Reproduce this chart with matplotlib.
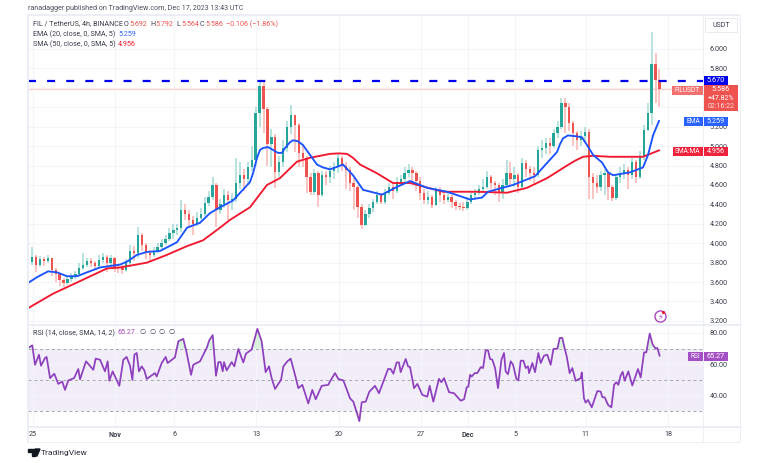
import numpy as np
import matplotlib
matplotlib.use('Agg')
import matplotlib.pyplot as plt
import matplotlib.patches as mpatches

plt.rcParams['font.family'] = ['Roboto', 'DejaVu Sans']

# 8h candles from Oct 24 evening, x is days since Oct 25
closes = [3.81,3.86,3.78,3.84,3.82,3.85,3.72,3.68,3.62,3.59,
          3.63,3.66,3.68,3.74,3.78,3.82,3.80,3.77,3.83,3.86,
          3.80,3.85,3.76,3.74,3.72,3.80,3.92,3.90,4.08,3.98,
          3.90,3.88,3.92,3.96,4.00,4.04,4.10,4.14,4.16,4.34,
          4.30,4.24,4.20,4.26,4.30,4.41,4.48,4.60,4.34,4.40,
          4.50,4.44,4.46,4.62,4.70,4.66,4.78,4.86,5.34,5.62,
          5.38,5.02,5.09,4.73,4.84,4.98,5.20,5.32,5.22,4.93,
          4.88,4.68,4.53,4.72,4.50,4.70,4.68,4.74,4.78,4.88,
          4.80,4.75,4.62,4.58,4.37,4.19,4.30,4.36,4.42,4.50,
          4.42,4.52,4.58,4.54,4.63,4.66,4.72,4.75,4.72,4.64,
          4.52,4.45,4.48,4.39,4.55,4.50,4.45,4.48,4.42,4.38,
          4.37,4.36,4.42,4.50,4.52,4.56,4.58,4.68,4.62,4.60,
          4.52,4.60,4.72,4.66,4.70,4.58,4.83,4.76,4.72,4.70,
          4.96,4.98,5.03,5.00,5.13,5.20,5.44,5.40,5.24,5.13,
          5.06,5.10,5.15,4.68,4.62,4.58,4.70,4.72,4.58,4.47,
          4.68,4.72,4.75,4.70,4.84,4.68,4.89,5.17,5.34,5.85,5.68,5.586]
highs = [3.88,3.96,3.88,3.87,3.86,3.88,3.85,3.74,3.68,3.64,
         3.66,3.69,3.71,3.80,3.90,3.85,3.85,3.82,3.88,3.90,
         3.88,3.88,3.86,3.79,3.78,3.84,3.98,3.97,4.17,4.10,
         4.00,3.93,3.96,4.00,4.04,4.08,4.16,4.20,4.20,4.44,
         4.40,4.34,4.28,4.32,4.36,4.48,4.54,4.68,4.62,4.46,
         4.56,4.54,4.52,4.88,4.84,4.76,4.84,5.00,5.40,5.68,
         5.68,5.40,5.18,5.12,4.90,5.06,5.26,5.42,5.32,5.24,
         5.00,4.90,4.72,4.76,4.74,4.74,4.74,4.80,4.84,4.92,
         4.90,4.84,4.78,4.68,4.60,4.40,4.34,4.40,4.46,4.54,
         4.52,4.56,4.62,4.62,4.68,4.70,4.78,4.82,4.78,4.74,
         4.68,4.56,4.54,4.50,4.58,4.58,4.54,4.52,4.50,4.44,
         4.41,4.42,4.48,4.54,4.56,4.60,4.66,4.74,4.70,4.64,
         4.62,4.66,4.86,4.84,4.78,4.72,4.88,4.86,4.80,4.78,
         5.00,5.06,5.08,5.08,5.18,5.26,5.50,5.50,5.44,5.26,
         5.16,5.16,5.20,5.18,4.72,4.70,4.74,4.76,4.74,4.60,
         4.70,4.78,4.82,4.78,4.88,4.86,4.95,5.22,5.44,6.18,5.96,5.79]
lows = [3.74,3.78,3.70,3.76,3.77,3.80,3.66,3.60,3.56,3.55,
        3.57,3.60,3.63,3.66,3.72,3.76,3.75,3.73,3.75,3.80,
        3.70,3.76,3.70,3.69,3.68,3.70,3.78,3.82,3.85,3.92,
        3.84,3.82,3.86,3.90,3.94,3.98,4.02,4.04,4.08,4.12,
        4.24,4.16,4.08,4.18,4.24,4.28,4.38,4.44,4.17,4.30,
        4.36,4.24,4.34,4.42,4.56,4.54,4.60,4.74,4.80,5.20,
        5.14,4.80,4.78,4.57,4.68,4.78,4.94,5.12,4.94,4.78,
        4.78,4.52,4.50,4.50,4.37,4.48,4.60,4.62,4.66,4.72,
        4.74,4.56,4.54,4.34,4.26,4.15,4.18,4.26,4.32,4.40,
        4.40,4.40,4.50,4.46,4.52,4.60,4.62,4.68,4.62,4.54,
        4.44,4.40,4.40,4.36,4.38,4.42,4.40,4.42,4.36,4.34,
        4.34,4.33,4.34,4.40,4.46,4.50,4.52,4.56,4.56,4.50,
        4.42,4.46,4.58,4.58,4.58,4.52,4.56,4.68,4.64,4.62,
        4.68,4.88,4.92,4.92,4.98,5.08,5.18,5.14,5.16,5.00,
        4.96,5.00,5.04,4.46,4.46,4.52,4.54,4.50,4.44,4.43,
        4.44,4.62,4.66,4.56,4.66,4.62,4.66,4.86,5.16,5.22,5.44,5.40]
first_open = 3.78

ema_days = [-0.43,0.34,1.28,2.04,2.89,3.74,4.59,5.70,7.40,7.99,8.84,9.69,10.80,12.24,13.10,14.20,15.05,15.90,17.01,18.45,
            18.71,19.05,19.30,19.56,19.98,20.41,20.83,21.17,21.43,21.85,22.11,22.53,22.96,23.55,24.15,24.66,25.26,
            26.36,27.21,28.06,29.68,30.95,32.06,33.50,35.20,37.16,38.18,38.69,40.82,42.69,43.96,
            44.56,44.81,45.07,45.49,46.26,46.68,47.11,47.62,48.39,48.89,49.32,50.77,51.87,52.30,52.72,53.23]
ema_vals = [3.59,3.65,3.71,3.70,3.66,3.66,3.70,3.75,3.78,3.81,3.88,3.91,3.92,4.01,4.16,4.21,4.31,4.37,4.44,4.63,
            4.72,4.88,4.96,4.98,4.99,4.96,4.93,4.93,4.98,5.04,5.06,5.05,5.01,4.91,4.81,4.78,4.76,
            4.81,4.70,4.55,4.50,4.58,4.64,4.57,4.53,4.45,4.47,4.53,4.60,4.69,4.86,
            4.94,5.02,5.08,5.11,5.10,5.09,5.01,4.91,4.83,4.73,4.70,4.73,4.78,4.91,5.11,5.259]
sma_days = [-0.43,1.70,4.00,6.29,7.40,9.69,11.39,13.10,14.46,15.90,16.75,18.45,19.90,21.00,22.45,23.55,25.26,26.00,26.70,27.20,27.81,
            29.25,30.61,32.06,34.86,37.76,40.31,42.00,43.71,45.41,46.10,46.77,47.60,49.06,51.87,53.23]
sma_vals = [3.33,3.48,3.61,3.74,3.75,3.80,3.88,3.97,4.03,4.16,4.24,4.37,4.60,4.67,4.84,4.88,4.92,4.925,4.92,4.88,4.81,
            4.72,4.62,4.62,4.53,4.53,4.52,4.57,4.67,4.80,4.85,4.89,4.90,4.89,4.89,4.956]

rsi_days = [-0.40,-0.06,0.17,0.51,0.68,1.02,1.16,1.45,1.81,2.15,2.49,2.72,3.00,3.49,3.85,4.00,4.51,5.13,5.33,5.70,
            6.12,6.35,6.49,6.77,7.34,7.68,7.96,8.25,8.45,8.62,8.82,9.01,9.24,9.47,9.67,10.37,10.52,10.94,11.28,11.45,
            12.07,12.36,12.78,13.07,13.44,13.63,14.20,14.77,14.99,15.28,15.56,15.76,15.96,16.13,16.24,16.47,16.89,17.12,17.46,17.88,
            18.11,18.59,19.08,19.44,19.78,20.07,20.29,20.58,21.09,21.29,21.63,21.91,22.28,22.56,22.90,23.41,23.75,24.04,24.55,25.11,
            25.25,25.68,25.96,26.39,26.96,27.24,27.75,27.95,28.29,28.60,29.08,29.42,29.85,30.19,30.41,30.64,30.92,31.12,31.26,31.69,
            31.89,32.06,32.40,32.68,33.11,33.53,33.73,34.04,34.52,34.72,34.95,35.38,35.80,36.37,36.65,36.88,37.02,37.16,37.30,37.56,
            37.78,38.07,38.27,38.49,38.69,38.86,39.06,39.29,39.54,39.83,40.05,40.19,40.39,40.62,40.82,41.10,41.27,41.47,41.70,41.90,
            42.09,42.18,42.46,42.69,42.97,43.17,43.45,43.73,44.02,44.25,44.59,44.79,45.01,45.21,45.38,45.63,45.86,46.14,46.57,46.66,
            46.85,46.99,47.19,47.51,47.99,48.27,48.41,48.61,48.90,49.18,49.41,49.60,49.77,49.97,50.14,50.31,50.62,50.96,51.44,51.67,
            51.96,52.15,52.44,52.69,52.95,53.09,53.28]
rsi_vals = [70.4,72.1,59.7,66.1,59.1,64.0,64.7,51.2,54.0,47.5,49.0,43.7,49.7,51.2,57.0,50.5,61.9,56.5,63.6,62.9,
            55.5,61.9,49.5,55.5,46.3,62.9,64.7,59.1,50.1,66.1,67.2,55.5,58.7,56.1,50.7,54.4,52.2,60.8,64.7,60.8,
            64.4,74.7,76.2,67.2,53.3,59.7,61.9,70.4,75.3,78.6,52.7,61.4,61.4,55.5,61.4,56.1,61.4,58.7,69.8,61.2,
            66.8,69.4,82.6,74.7,55.0,58.7,51.2,44.3,50.1,58.7,61.9,63.6,53.3,44.8,46.9,35.1,43.7,37.7,46.3,46.9,
            49.0,54.4,50.7,49.7,38.3,36.2,23.8,35.8,36.2,42.6,46.3,41.6,50.1,57.0,57.0,54.0,61.2,61.2,55.0,63.4,
            58.7,58.2,44.8,47.5,40.5,39.4,46.3,36.2,50.7,48.6,51.2,42.2,41.6,36.8,37.7,45.4,45.8,53.3,52.2,54.4,
            54.4,58.2,57.6,68.9,68.9,63.4,62.9,57.6,44.8,62.9,67.2,55.5,53.7,61.9,59.7,50.7,49.7,62.3,62.3,57.6,
            58.7,54.4,60.8,55.0,67.2,60.8,65.5,66.1,59.7,69.8,70.0,76.8,76.8,70.0,65.1,54.4,57.6,49.5,51.2,54.8,
            38.3,35.6,37.3,32.6,43.0,42.6,39.0,39.0,34.1,32.6,46.9,48.6,46.9,52.9,55.2,49.5,55.5,46.5,57.0,51.6,
            67.6,67.6,79.6,72.6,70.0,70.4,65.5]

price_ticks = [3.2,3.4,3.6,3.8,4.0,4.2,4.4,4.6,4.8,5.0,5.2,5.4,5.6,5.8,6.0]
# 5.4 and 5.6 sit fully under the last price box
hidden_ticks = [5.4, 5.6]
rsi_ticks = [40,60,80]
time_ticks = [0,7,12,19,26,33,37,41,47,54]
time_labels = ['25','Nov','6','13','20','27','Dec','5','11','18']

W, H = 768, 463
GREEN, GREEN_W = '#26a69a', '#a5dbd5'
RED, RED_W = '#ef5350', '#f9b5b3'
BLUE, LINE_RED = '#1a53ff', '#f0192f'
PURPLE = '#8e3fbd'
GRID = '#f4f5f9'
FRAME = '#eceef5'

fig = plt.figure(figsize=(W/100, H/100), dpi=100)

def pane(x0, y0, x1, y1):
    return fig.add_axes([x0/W, 1-y1/H, (x1-x0)/W, (y1-y0)/H])

def box(x0, y0, x1, y1, color, z=5, edge='none'):
    fig.add_artist(mpatches.Rectangle((x0/W, 1-y1/H), (x1-x0)/W, (y1-y0)/H, transform=fig.transFigure,
                                      facecolor=color, edgecolor=edge, linewidth=0.6, zorder=z))

def label(x, y, s, color='#3a3e4a', size=5.0, ha='left', z=6, **kw):
    fig.text(x/W, 1-y/H, s, color=color, fontsize=size, ha=ha, va='center', zorder=z, **kw)

xlim = (-0.425, 56.97)

# price pane
ax1 = pane(28, 15, 703, 324)
ax1.set_xlim(xlim)
ax1.set_ylim(3.168, 6.35)
for s in ax1.spines.values():
    s.set_visible(False)
ax1.set_xticks(time_ticks)
ax1.set_xticklabels([])
ax1.yaxis.tick_right()
ax1.set_yticks(price_ticks)
ax1.set_yticklabels(['' if p in hidden_ticks else '%.3f' % p for p in price_ticks], fontsize=5.2, color='#3a3e4a')
ax1.tick_params(length=0, pad=5)
ax1.grid(True, color=GRID, lw=0.8)
ax1.set_axisbelow(True)

days = -0.4 + np.arange(len(closes))/3
opens = [first_open] + closes[:-1]
for i in range(len(closes)):
    up = closes[i] >= opens[i]
    ax1.vlines(days[i], lows[i], highs[i], color=GREEN_W if up else RED_W, lw=1.1, zorder=2)
    ax1.bar(days[i], abs(closes[i]-opens[i]), bottom=min(opens[i], closes[i]), width=0.2,
            color=GREEN if up else RED, linewidth=0, zorder=3)

ax1.plot(sma_days, sma_vals, color=LINE_RED, lw=1.35, zorder=4)
ax1.plot(ema_days, ema_vals, color=BLUE, lw=1.35, zorder=5)
ax1.axhline(5.586, color='#fbd3d3', lw=1.0, zorder=1)
ax1.axhline(5.67, color='#0000f0', lw=1.6, dashes=(3.6, 5.0), zorder=6)

# rsi pane
ax2 = pane(28, 326, 703, 426)
ax2.set_xlim(xlim)
ax2.set_ylim(20.7, 84.4)
for s in ax2.spines.values():
    s.set_visible(False)
ax2.set_xticks(time_ticks)
ax2.set_xticklabels([])
ax2.yaxis.tick_right()
ax2.set_yticks(rsi_ticks)
ax2.set_yticklabels(['%.2f' % r for r in rsi_ticks], fontsize=5.2, color='#3a3e4a')
ax2.tick_params(length=0, pad=5)
ax2.grid(True, color=GRID, lw=0.8)
ax2.set_axisbelow(True)
ax2.axhspan(30, 70, color='#f1edf9', lw=0, zorder=0.5)
for lvl in [30, 50, 70]:
    ax2.axhline(lvl, color='#a6a6ae', lw=0.7, dashes=(3, 3), zorder=1)
rsi_d, rsi_v = np.array(rsi_days), np.array(rsi_vals)
ax2.fill_between(rsi_d, 70, rsi_v, where=rsi_v > 70, interpolate=True, color='#d9f2dd', lw=0, zorder=1.5)
ax2.fill_between(rsi_d, 30, rsi_v, where=rsi_v < 30, interpolate=True, color='#fadcdc', lw=0, zorder=1.5)
ax2.plot(rsi_d, rsi_v, color=PURPLE, lw=1.25, zorder=3)

# frame lines
box(27, 15, 28.5, 442, FRAME, z=2)
box(27, 14.5, 740, 15.5, FRAME, z=2)
box(27, 324, 740, 326, FRAME, z=2)
box(27, 426, 740, 428, FRAME, z=2)
box(27, 441.5, 740, 442.5, FRAME, z=2)
box(703, 15, 704, 442, FRAME, z=2)
box(739.5, 15, 740.5, 442, FRAME, z=2)

# time labels
for d, t in zip(time_ticks, time_labels):
    xp = 33 + 11.76*d
    label(xp, 435, t, size=5.2, ha='center', fontweight='bold' if t in ('Nov', 'Dec') else 'normal')

# header and legends
label(28, 8.5, 'ranadagger published on TradingView.com, Dec 17, 2023 13:43 UTC', size=5.1, color='#4a4e5a')
label(33, 24, 'FIL / TetherUS, 4h, BINANCE', size=5.1)
for x, s, v in [(124, 'O', '5.692'), (150, 'H', '5.792'), (176, 'L', '5.564'), (200, 'C', '5.586')]:
    label(x, 24, s, size=5.1)
    label(x+5, 24, v, size=5.1, color=RED)
label(226, 24, '\u22120.106 (\u22121.86%)', size=5.1, color=RED)
label(33, 34, 'EMA (20, close, 0, SMA, 5)', size=5.1)
label(118, 34, '5.259', size=5.1, color='#2962ff')
label(33, 44, 'SMA (50, close, 0, SMA, 5)', size=5.1)
label(118, 44, '4.956', size=5.1, color=LINE_RED)
label(33, 333, 'RSI (14, close, SMA, 14, 2)', size=5.1)
label(118, 333, '65.27', size=5.1, color='#ab47bc')
for x in [139, 149, 158, 168]:
    label(x, 333, '\u2205', size=5.1)

# price scale boxes
box(705, 18, 737, 32, 'white', edge='#e6e8ef')
label(721, 25.5, 'USDT', size=5.0, ha='center')
box(704, 76, 728, 85, '#0000f0')
label(716, 80.5, '5.670', color='white', size=5.2, ha='center')
box(704, 85, 738, 110.5, '#ef5350')
label(721, 89.5, '5.586', color='white', size=5.2, ha='center')
label(721, 98, '+47.82%', color='white', size=5.0, ha='center')
label(721, 106, '02:16:22', color='#fde0df', size=5.0, ha='center')
box(672, 85.5, 703, 94.5, '#f2706e')
label(687.5, 90, 'FILUSDT', color='white', size=4.8, ha='center')
box(684, 117, 703, 126, '#2962ff')
label(693.5, 121.5, 'EMA', color='white', size=4.8, ha='center')
box(704, 117, 728, 126, '#2962ff')
label(716, 121.5, '5.259', color='white', size=5.2, ha='center')
box(673, 147, 703, 156, '#f0233c')
label(688, 151.5, 'SMA:MA', color='white', size=4.8, ha='center')
box(704, 147, 728, 156, '#f0233c')
label(716, 151.5, '4.956', color='white', size=5.2, ha='center')
box(688, 352, 703, 361, '#a44fc4')
label(695.5, 356.5, 'RSI', color='white', size=4.8, ha='center')
box(704, 352, 728, 361, '#a44fc4')
label(716, 356.5, '65.27', color='white', size=5.2, ha='center')

# news flash icon above the rsi pane
ax1.plot([53.3], [3.25], marker='o', ms=8, mfc='white', mec='#ab47bc', mew=1.0, clip_on=False, zorder=7)
label(660, 316.5, '\u26a1', color='#ab47bc', size=6, ha='center', z=7, family='DejaVu Sans')
ax1.plot([53.57], [3.29], marker='o', ms=2.2, color='#f01020', mew=0, clip_on=False, zorder=8)

# footer logo
fig.add_artist(mpatches.Polygon([(28/W, 1-449/H), (35/W, 1-449/H), (35/W, 1-456/H), (31.5/W, 1-456/H),
                                 (31.5/W, 1-452/H), (28/W, 1-452/H)], transform=fig.transFigure, color='#131722', zorder=6))
fig.add_artist(mpatches.Polygon([(35.5/W, 1-449/H), (40/W, 1-449/H), (37/W, 1-456/H), (34.5/W, 1-456/H)],
                                transform=fig.transFigure, color='#131722', zorder=6))
label(41, 453, 'TradingView', size=6.0, color='#2a2e39')

fig.savefig('out.png', dpi=100)
